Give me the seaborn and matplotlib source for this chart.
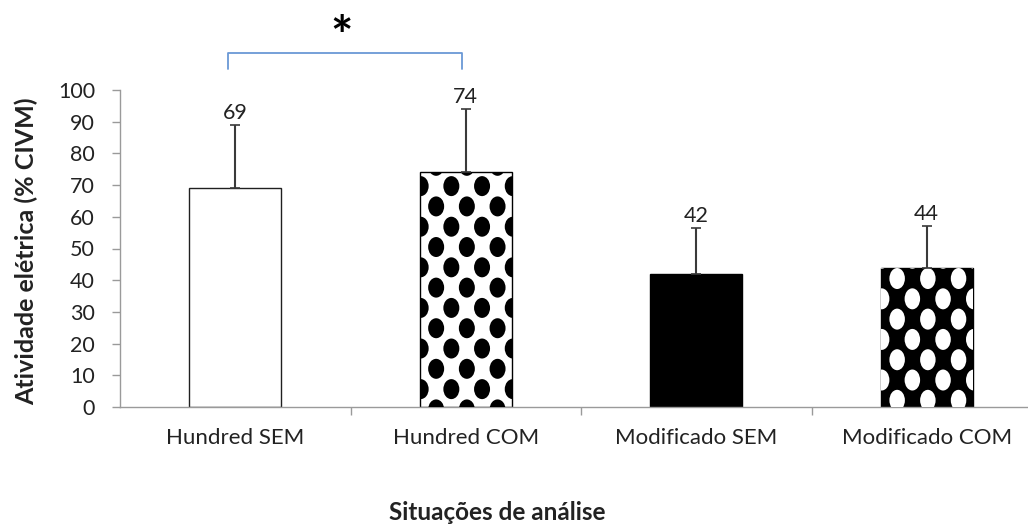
import numpy as np
import matplotlib
matplotlib.use("Agg")
import matplotlib.pyplot as plt
from matplotlib.patches import Ellipse
import seaborn as sns

categories = ["Hundred SEM", "Hundred COM", "Modificado SEM", "Modificado COM"]
means = [69, 74, 42, 44]
sds = [20, 20, 14.5, 13]
y_ticks = list(range(0, 101, 10))

sns.set_theme(style="white")
plt.rcParams["font.family"] = ["Lato", "DejaVu Sans"]

fig = plt.figure(figsize=(10.28, 5.30), dpi=100)
ax = fig.add_axes([120 / 1028, 1 - 407 / 530, 908 / 1028, 317 / 530])

sns.barplot(x=categories, y=means, ax=ax, width=0.4, color="white",
            edgecolor="black", linewidth=1.0, errorbar=None, zorder=2)

ax.set_xlim(-0.5, -0.5 + 908 / 230.5)
ax.set_ylim(0, 100)

px_x = 230.5   # pixels per category unit
px_y = 3.17    # pixels per y unit

# fill colour, dot colour, dot size (px), first full row depth (px), first row shifted?
styles = [
    ("white", None, None, None, None),
    ("white", "black", (16, 20), 13.7, False),
    ("black", None, None, None, None),
    ("black", "white", (15.5, 21), 11.0, True),
]

for i, patch in enumerate(ax.patches[:4]):
    fill, dot, size, depth, shifted = styles[i]
    patch.set_facecolor(fill)
    patch.set_edgecolor("#202020" if i == 0 else "black")
    if dot is None:
        continue
    x0 = patch.get_x()
    w = patch.get_width()
    h = patch.get_height()
    dx = 30.7 / px_x
    dy = 20.3 / px_y
    ew, eh = size[0] / px_x, size[1] / px_y
    yy = h - depth / px_y + dy
    row = 1 if not shifted else 0
    while yy > -dy:
        off = 1.0 / px_x if row % 2 == 0 else 16.5 / px_x
        xx = x0 + off - dx
        while xx < x0 + w + dx:
            e = Ellipse((xx, yy), ew, eh, facecolor=dot, edgecolor="none",
                        zorder=3)
            ax.add_patch(e)
            e.set_clip_path(patch)
            xx += dx
        yy -= dy
        row += 1

# upper standard deviation bars
ax.errorbar(range(len(categories)), means, yerr=[np.zeros(len(sds)), sds],
            fmt="none", ecolor="#3a3a3a", elinewidth=1.5, capsize=3.5,
            capthick=1.2, zorder=4)

for i, (m, s) in enumerate(zip(means, sds)):
    ax.annotate(f"{m}", (i, m + s), xytext=(0, 4.5), textcoords="offset points",
                ha="center", va="baseline", fontsize=15.5, color="#222222")

# significance bracket
bc = "#6A98D6"
yb, yt = 106.5, 111.7
ax.plot([-0.03, -0.03, 0.985, 0.985], [yb, yt, yt, yb],
        color=bc, lw=1.3, clip_on=False)
ax.text(0.463, 116.0, "*", ha="center", va="center", fontsize=38,
        fontweight="bold", color="black", clip_on=False)

# axes styling
for side in ["top", "right"]:
    ax.spines[side].set_visible(False)
for side in ["left", "bottom"]:
    ax.spines[side].set_color("#9a9a9a")
    ax.spines[side].set_linewidth(1.0)

ax.set_yticks(y_ticks)
ax.set_yticklabels([str(t) for t in y_ticks], fontsize=15.5, color="#222222")
ax.tick_params(axis="y", which="major", left=True, length=6, width=1,
               color="#9a9a9a", pad=12)
ax.set_xticks(range(len(categories)))
ax.set_xticklabels(categories, fontsize=16, color="#222222")
ax.tick_params(axis="x", which="major", bottom=False, length=0, pad=15)
ax.set_xticks([0.5, 1.5, 2.5], minor=True)
ax.tick_params(axis="x", which="minor", bottom=True, length=6, width=1,
               color="#9a9a9a")

ax.set_ylabel("Atividade elétrica (% CIVM)", fontsize=18, fontweight="bold",
              color="#222222")
ax.yaxis.set_label_coords((38 - 120) / 908, 0.49)
ax.set_xlabel("")
fig.text(497 / 1028, 1 - 513 / 530, "Situações de análise", ha="center",
         va="center", fontsize=17.5, fontweight="bold", color="#222222")

fig.savefig("out.png", dpi=100)
